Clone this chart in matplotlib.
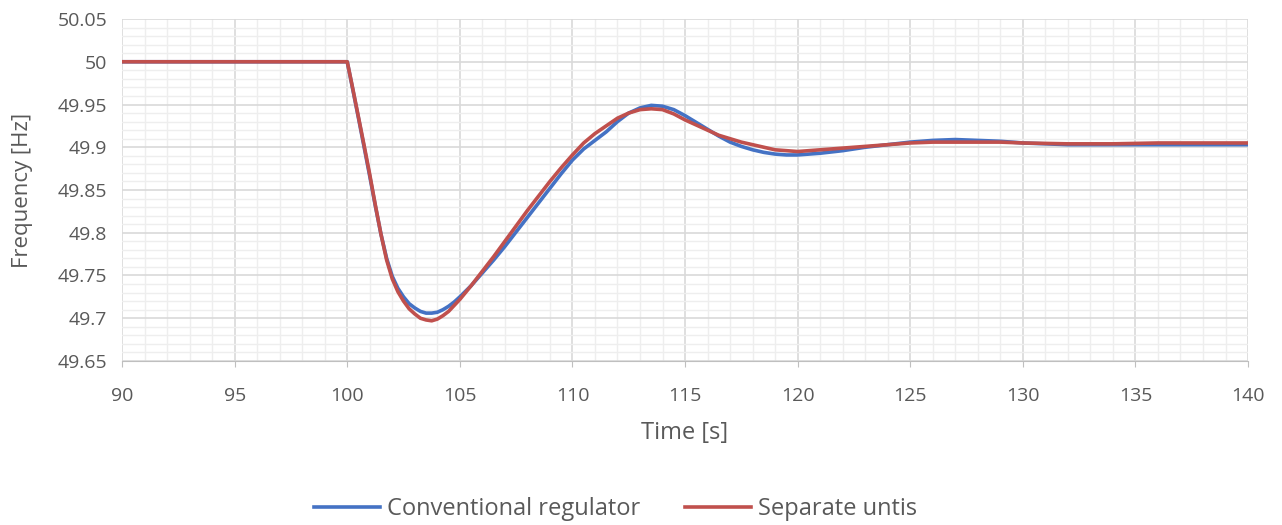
import numpy as np
import matplotlib.pyplot as plt
from matplotlib.ticker import MultipleLocator

t = [90, 100, 100.25, 100.5, 100.75, 101, 101.25, 101.5, 101.75, 102, 102.25, 102.5,
     102.75, 103, 103.25, 103.5, 103.75, 104, 104.25, 104.5, 104.75, 105, 105.5, 106,
     106.5, 107, 107.5, 108, 108.5, 109, 109.5, 110, 110.5, 111, 111.5, 112, 112.5,
     113, 113.5, 114, 114.5, 115, 115.5, 116, 116.5, 117, 117.5, 118, 118.5, 119,
     119.5, 120, 121, 122, 123, 124, 125, 126, 127, 128, 129, 130, 132, 134, 136,
     138, 140]
f_conv = [50, 50, 49.967, 49.934, 49.900, 49.866, 49.831, 49.798, 49.770, 49.749,
          49.735, 49.725, 49.717, 49.712, 49.708, 49.706, 49.706, 49.707, 49.710,
          49.714, 49.719, 49.725, 49.738, 49.753, 49.768, 49.784, 49.801, 49.818,
          49.835, 49.852, 49.869, 49.885, 49.898, 49.908, 49.918, 49.930, 49.940,
          49.946, 49.949, 49.948, 49.944, 49.937, 49.929, 49.921, 49.913, 49.906,
          49.901, 49.897, 49.894, 49.892, 49.891, 49.891, 49.893, 49.896, 49.900,
          49.903, 49.906, 49.908, 49.909, 49.908, 49.907, 49.905, 49.903, 49.903,
          49.903, 49.903, 49.903]
f_sep = [50, 50, 49.968, 49.935, 49.902, 49.868, 49.832, 49.798, 49.768, 49.746,
         49.731, 49.720, 49.711, 49.705, 49.700, 49.698, 49.697, 49.699, 49.703,
         49.708, 49.715, 49.722, 49.738, 49.755, 49.772, 49.790, 49.808, 49.826,
         49.843, 49.860, 49.876, 49.891, 49.905, 49.916, 49.925, 49.934, 49.940,
         49.944, 49.945, 49.944, 49.939, 49.932, 49.926, 49.920, 49.914, 49.910,
         49.906, 49.903, 49.900, 49.897, 49.896, 49.895, 49.897, 49.899, 49.901,
         49.903, 49.905, 49.906, 49.906, 49.906, 49.906, 49.905, 49.904, 49.904,
         49.905, 49.905, 49.905]

txt = '#595959'
plt.rcParams['font.family'] = ['Open Sans', 'DejaVu Sans']

fig = plt.figure(figsize=(12.82, 5.25), dpi=100)
ax = fig.add_axes([0.0952, 0.3124, 0.8783, 0.6514])

ax.plot(t, f_conv, color='#4472C4', linewidth=2.6, label='Conventional regulator')
ax.plot(t, f_sep, color='#C0504D', linewidth=2.6, label='Separate untis')

ax.set_xlim(90, 140)
ax.set_ylim(49.65, 50.05)
ax.xaxis.set_major_locator(MultipleLocator(5))
ax.xaxis.set_minor_locator(MultipleLocator(1))
ax.yaxis.set_major_locator(MultipleLocator(0.05))
ax.yaxis.set_minor_locator(MultipleLocator(0.01))
ax.set_yticks(ax.get_yticks())
ax.set_yticklabels(['{:g}'.format(round(v, 2)) for v in ax.get_yticks()])
ax.set_ylim(49.65, 50.05)
ax.grid(which='major', color='#d9d9d9', linewidth=1.2)
ax.grid(which='minor', color='#eeeeee', linewidth=1.0)
ax.set_axisbelow(True)
for s in ['top', 'right', 'left']:
    ax.spines[s].set_visible(False)
ax.spines['bottom'].set_color('#bfbfbf')
ax.tick_params(which='both', left=False, colors=txt, labelsize=14)
ax.tick_params(axis='x', which='major', length=4, color='#bfbfbf', pad=15)
ax.tick_params(axis='x', which='minor', length=0)
ax.tick_params(axis='y', pad=7)

ax.set_xlabel('Time [s]', color=txt, fontsize=17, labelpad=11)
ax.set_ylabel('Frequency [Hz]', color=txt, fontsize=16, labelpad=18)

leg = fig.legend(loc='center', bbox_to_anchor=(0.48, 0.03), ncol=2, frameon=False,
                 fontsize=17, handlelength=2.8, columnspacing=1.9, handletextpad=0.3)
for tx in leg.get_texts():
    tx.set_color(txt)

fig.savefig('out.png', dpi=100)
